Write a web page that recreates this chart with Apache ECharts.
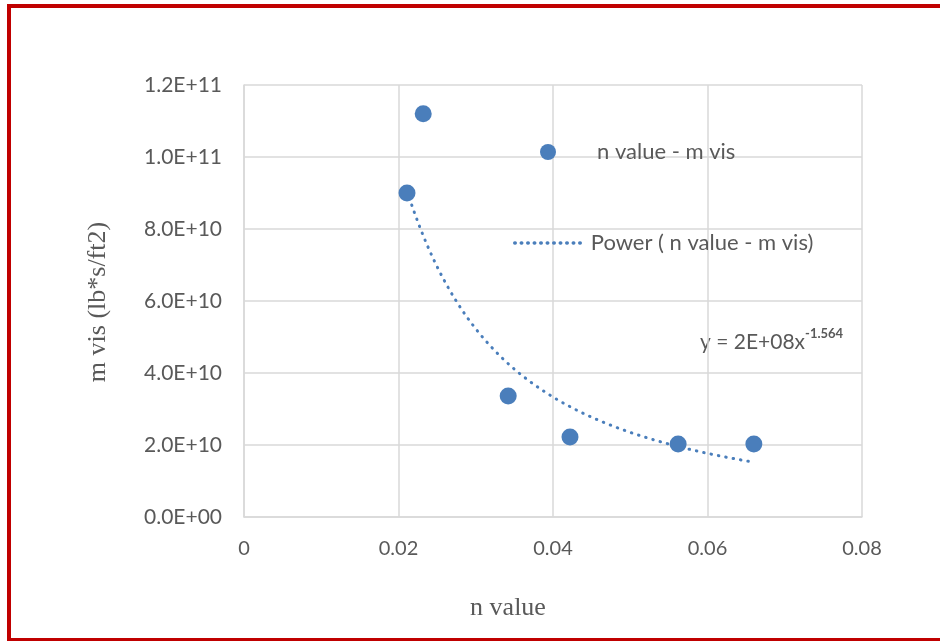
<!DOCTYPE html>
<html>
<head>
<meta charset="utf-8">
<script src="https://cdn.jsdelivr.net/npm/echarts@6/dist/echarts.min.js"></script>
<style>
  html, body { margin: 0; padding: 0; background: #ffffff; }
  #chart { width: 940px; height: 641px; }
</style>
</head>
<body>
<div id="chart"></div>
<script>
// Measured samples: flow behaviour index vs. consistency
const nValues = [0.0211, 0.0232, 0.0342, 0.0422, 0.0562, 0.066];
const mVis = [9.0e10, 1.12e11, 3.36e10, 2.22e10, 2.03e10, 2.03e10];

// Power trendline y = a * x^b
const powerCoef = 2.17e8;
const powerExp = -1.564;
const equationMain = 'y = 2E+08x';
const equationSup = '-1.564';

const seriesName = 'n value - m vis';
const trendName = 'Power ( n value - m vis)';

const xTitle = 'n value';
const yTitle = 'm vis (lb*s/ft2)';

const blue = '#4A7EBB';
const textGray = '#595959';
const gridGray = '#d9d9d9';
const labelFont = 'Lato, "Open Sans", sans-serif';
const titleFont = '"Liberation Serif", "DejaVu Serif", serif';

// Trendline sampled across the range of the measured n values
const xMin = Math.min.apply(null, nValues);
const xMax = Math.max.apply(null, nValues);
const trendPoints = [];
for (let i = 0; i <= 80; i++) {
  const x = xMin + (xMax - xMin) * i / 80;
  trendPoints.push([x, powerCoef * Math.pow(x, powerExp)]);
}

function sciLabel(v) {
  if (v === 0) return '0.0E+00';
  const e = Math.floor(Math.log10(v) + 1e-9);
  const m = v / Math.pow(10, e);
  return m.toFixed(1) + 'E+' + String(e).padStart(2, '0');
}

const chart = echarts.init(document.getElementById('chart'), null, { renderer: 'canvas' });

chart.setOption({
  animation: false,
  backgroundColor: '#ffffff',
  grid: { left: 244, top: 85, right: 78, bottom: 124, containLabel: false },
  xAxis: {
    type: 'value',
    min: 0, max: 0.08, interval: 0.02,
    axisLine: { show: true, lineStyle: { color: gridGray, width: 1.5 } },
    axisTick: { show: false },
    splitLine: { show: true, lineStyle: { color: gridGray, width: 1.5 } },
    axisLabel: {
      color: textGray, fontFamily: labelFont, fontSize: 20, margin: 22,
      formatter: function (v) { return v === 0 ? '0' : String(+v.toFixed(2)); }
    }
  },
  yAxis: {
    type: 'value',
    min: 0, max: 1.2e11, interval: 2e10,
    axisLine: { show: true, lineStyle: { color: gridGray, width: 1.5 } },
    axisTick: { show: false },
    splitLine: { show: true, lineStyle: { color: gridGray, width: 1.5 } },
    axisLabel: {
      color: textGray, fontFamily: labelFont, fontSize: 21, margin: 22,
      formatter: sciLabel
    }
  },
  legend: [
    {
      data: [{ name: seriesName, icon: 'circle' }],
      left: 535, top: 136,
      itemWidth: 16, itemHeight: 16,
      textStyle: { color: textGray, fontFamily: labelFont, fontSize: 22, padding: [0, 0, 0, 36] },
      selectedMode: false
    },
    {
      data: [{ name: trendName }],
      left: 508, top: 227,
      itemWidth: 71, itemHeight: 16,
      itemStyle: { color: 'rgba(0,0,0,0)', borderWidth: 0 },
      lineStyle: { color: blue, width: 3.5, type: [0.5, 6], cap: 'round' },
      textStyle: { color: textGray, fontFamily: labelFont, fontSize: 22 },
      selectedMode: false
    }
  ],
  series: [
    {
      name: seriesName,
      type: 'scatter',
      symbol: 'circle',
      symbolSize: 17,
      itemStyle: { color: blue, opacity: 1 },
      data: nValues.map(function (x, i) { return [x, mVis[i]]; }),
      z: 3
    },
    {
      name: trendName,
      type: 'line',
      symbol: 'none',
      smooth: false,
      lineStyle: { color: blue, width: 3, type: [0.5, 7], cap: 'round' },
      itemStyle: { color: blue },
      data: trendPoints,
      z: 2
    }
  ],
  graphic: [
    {
      type: 'rect',
      shape: { x: 9, y: 6, width: 940, height: 634 },
      style: { fill: 'none', stroke: '#C00000', lineWidth: 4 },
      silent: true
    },
    {
      type: 'text',
      x: 98, y: 302, rotation: Math.PI / 2,
      style: {
        text: yTitle, fill: textGray, font: '26px ' + titleFont,
        align: 'center', verticalAlign: 'middle'
      }
    },
    {
      type: 'text',
      x: 508, y: 608,
      style: {
        text: xTitle, fill: textGray, font: '26px ' + titleFont,
        align: 'center', verticalAlign: 'middle'
      }
    },
    {
      type: 'text',
      x: 700, y: 340,
      style: {
        text: '{b|' + equationMain + '}{s|' + equationSup + '}',
        verticalAlign: 'middle',
        rich: {
          b: { fill: textGray, fontFamily: labelFont, fontSize: 21, lineHeight: 26, verticalAlign: 'bottom' },
          s: { fill: textGray, fontFamily: labelFont, fontSize: 13, lineHeight: 26, verticalAlign: 'top', fontWeight: 'bold' }
        }
      }
    }
  ]
});
</script>
</body>
</html>
